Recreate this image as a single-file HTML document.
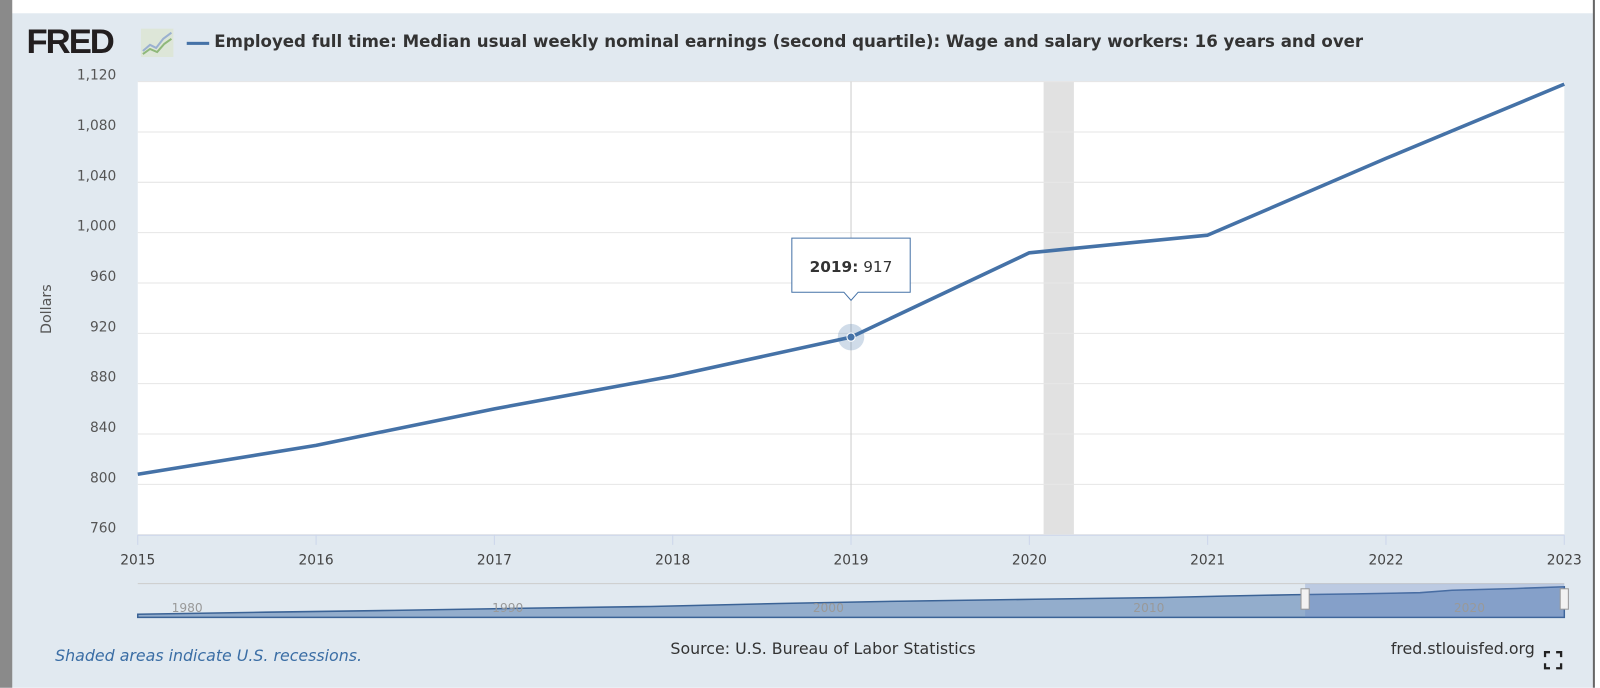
<!DOCTYPE html>
<html><head><meta charset="utf-8"><style>
body{margin:0;width:1600px;height:688px;overflow:hidden;background:#fff;font-family:"DejaVu Sans","Liberation Sans",sans-serif;position:relative}
#wrap{position:absolute;left:0;top:0;width:1568px;height:674px;transform:scale(1.020408);transform-origin:0 0;background:#e1e9f0}
.abs{position:absolute}
</style></head><body>
<div id="wrap">
<div class="abs" style="left:0;top:0;width:1568px;height:13px;background:#fff"></div>
<div class="abs" style="left:0;top:0;width:12px;height:674px;background:#8a8a8a"></div>
<div class="abs" style="left:1561px;top:0;width:7px;height:674px;background:#fff;border-left:2px solid #666"></div>
<div class="abs" style="left:26px;top:22px;font-family:'Liberation Sans',sans-serif;font-weight:900;font-size:34px;letter-spacing:-2px;color:#231f20">FRED</div>
<svg class="abs" style="left:138px;top:28px" width="32" height="28"><rect width="32" height="28" fill="#dde6d8"/><polyline points="2,22 9,16 15,19 22,10 30,4" fill="none" stroke="#9ab0d0" stroke-width="2"/><polyline points="2,25 9,20 16,23 23,15 30,10" fill="none" stroke="#8fb87a" stroke-width="2"/></svg>
<div class="abs" style="left:183px;top:41px;width:22px;height:3px;background:#4572a7"></div>
<div class="abs" style="left:210px;top:31px;font-size:16.3px;font-weight:bold;color:#333;white-space:nowrap">Employed full time: Median usual weekly nominal earnings (second quartile): Wage and salary workers: 16 years and over</div>
<svg class="abs" style="left:0;top:0" width="1560" height="674" id="c">
<text transform="translate(50,303) rotate(-90)" text-anchor="middle" font-size="14" fill="#555" font-family="DejaVu Sans">Dollars</text>
</svg>
<div class="abs" style="left:54px;top:634px;font-size:15.5px;font-style:italic;color:#3b6ea5">Shaded areas indicate U.S. recessions.</div>
<div class="abs" style="left:657px;top:627px;font-size:15.5px;color:#333">Source: U.S. Bureau of Labor Statistics</div>
<div class="abs" style="left:1363px;top:627px;font-size:15.5px;color:#333">fred.stlouisfed.org</div>
<svg class="abs" style="left:1513px;top:638px" width="18" height="18"><path d="M1 6V1H6M12 1H17V6M17 12V17H12M6 17H1V12" fill="none" stroke="#222" stroke-width="2.5"/></svg>
</div>
<script>
const years=[2015,2016,2017,2018,2019,2020,2021,2022,2023];
const values=[808,831,860,886,917,984,998,1059,1118];
const yTicks=[760,800,840,880,920,960,1000,1040,1080,1120];
const recession=[2020.08,2020.25];
const navYears=[1980,1990,2000,2010,2020];
const navVals=[200,270,330,400,460,560,640,700,760,810,850,880,920,1000,1060,1118];
const navValYears=[1979,1983,1987,1991,1995,1999,2003,2007,2011,2013,2015,2017,2019,2020,2022,2023.5];
const L=135,R=1533,T=80,B=524;
const x=v=>L+(v-2015)/(2023-2015)*(R-L);
const y=v=>B-(v-760)/(1120-760)*(B-T);
const s=document.getElementById('c'),NS='http://www.w3.org/2000/svg';
const FF='DejaVu Sans';
function mk(t,a,p){const e=document.createElementNS(NS,t);for(const k in a)e.setAttribute(k,a[k]);(p||s).appendChild(e);return e;}
const bg=mk('rect',{x:L,y:T,width:R-L,height:B-T,fill:'#fff'});


const rc=mk('rect',{x:x(recession[0]),y:T,width:x(recession[1])-x(recession[0]),height:B-T,fill:'#e1e1e1'});


yTicks.forEach(t=>{
const g=mk('line',{x1:L,x2:R,y1:y(t),y2:y(t),stroke:'#e6e6e6'});


const tx=mk('text',{x:114,y:y(t)-2,'text-anchor':'end','font-size':13.5,fill:'#555','font-family':FF});
tx.textContent=t.toLocaleString('en-US');


});
const ax=mk('line',{x1:L,x2:R,y1:B+0.5,y2:B+0.5,stroke:'#ccd6eb'});


years.forEach(yr=>{
const tk=mk('line',{x1:x(yr),x2:x(yr),y1:B,y2:B+10,stroke:'#ccd6eb'});


const tx=mk('text',{x:x(yr),y:553,'text-anchor':'middle','font-size':13.5,fill:'#444','font-family':FF});
tx.textContent=yr;


});
const hi=4;
const cross=mk('line',{x1:x(years[hi]),x2:x(years[hi]),y1:T,y2:B,stroke:'#ccc'});


const ln=mk('polyline',{points:years.map((v,i)=>x(v)+','+y(values[i])).join(' '),fill:'none',stroke:'#4572a7','stroke-width':3.5,'stroke-linejoin':'round'});


const halo=mk('circle',{cx:x(years[hi]),cy:y(values[hi]),r:13,fill:'#4572a7','fill-opacity':0.25});


const pt=mk('circle',{cx:x(years[hi]),cy:y(values[hi]),r:4,fill:'#4572a7',stroke:'#fff','stroke-width':1});


const tx0=x(years[hi]),ty0=y(values[hi])-44;
const tip=mk('path',{d:`M${tx0-58},${ty0-53}H${tx0+58}V${ty0}H${tx0+7}L${tx0},${ty0+8}L${tx0-7},${ty0}H${tx0-58}Z`,fill:'#fff',stroke:'#4572a7','stroke-width':1});


const tt=mk('text',{x:tx0,y:ty0-20,'text-anchor':'middle','font-size':15,fill:'#333','font-family':FF});
tt.innerHTML='<tspan font-weight="bold">'+years[hi]+':</tspan> '+values[hi];


const NT=572,NB=605,nx=v=>L+(v-1979)/(2023.5-1979)*(R-L),ny=v=>NB-3-(v-200)/(1118-200)*27;
const nbl=mk('line',{x1:L,x2:R,y1:NT,y2:NT,stroke:'#ccc'});


const na=mk('path',{d:'M'+L+','+NB+' '+navValYears.map((v,i)=>'L'+nx(v)+','+ny(navVals[i])).join(' ')+' L'+R+','+NB+'Z',fill:'#4572a7','fill-opacity':0.5,stroke:'#3b6396','stroke-width':1.5});


const sel=mk('rect',{x:1279,y:NT,width:R-1279,height:NB-NT,fill:'#6685c2','fill-opacity':0.3});


navYears.forEach(v=>{
const t=mk('text',{x:nx(v)+17,y:600,'text-anchor':'middle','font-size':12,fill:'#999','font-family':FF});
t.textContent=v;


});
[1279,1533].forEach(h=>{
const r=mk('rect',{x:h-4,y:577,width:8,height:20,fill:'#f2f2f2',stroke:'#999'});


});
</script>
</body></html>
